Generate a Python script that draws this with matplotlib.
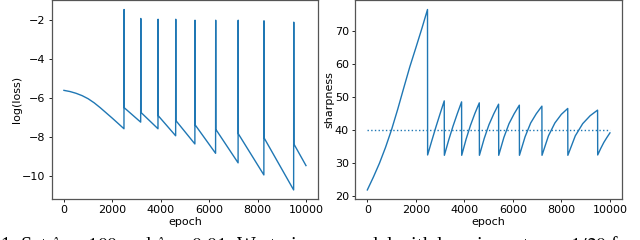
import numpy as np
import matplotlib.pyplot as plt

plt.rcParams['mathtext.fontset'] = 'stix'

## values

# epochs where the loss spikes / sharpness drops
spike_epochs = [2480, 3170, 3885, 4615, 5410, 6265, 7195, 8260, 9490]
last_epoch = 10000

# loss: smooth first phase
loss_start_epochs = [0, 250, 500, 750, 1000, 1250, 1500, 1750, 2000, 2250]
loss_start_vals = [-5.60, -5.66, -5.75, -5.87, -6.03, -6.24, -6.49, -6.76, -7.03, -7.31]
# loss around each spike
loss_before = [-7.57, -7.23, -7.57, -7.93, -8.35, -8.83, -9.32, -9.94, -10.71]
loss_top = [-1.45, -1.91, -1.95, -1.95, -2.0, -2.0, -2.0, -2.03, -2.1]
loss_after = [-6.49, -6.73, -6.90, -7.15, -7.37, -7.60, -7.83, -8.04, -8.35]
loss_end = -9.46

# sharpness: first phase
sharp_start_epochs = [0, 250, 500, 750, 1000, 1250, 1500, 1750, 2000, 2250]
sharp_start_vals = [21.9, 25.8, 30.0, 34.8, 40.2, 46.3, 52.8, 59.2, 65.0, 70.9]
sharp_first_peak = 76.6
# sharpness after each drop, peaks before the next drop
sharp_low = [32.5, 32.4, 32.4, 32.4, 32.4, 32.4, 32.4, 32.4, 32.5]
sharp_peak = [48.9, 48.6, 48.3, 47.9, 47.6, 47.3, 46.6, 46.1]
# values at 1/4, 1/2, 3/4 of each cycle
sharp_q1 = [36.8, 37.0, 37.3, 37.5, 37.8, 38.0, 38.3, 38.3, 34.5]
sharp_q2 = [41.0, 41.2, 41.5, 41.7, 42.0, 42.2, 42.2, 42.0, 36.3]
sharp_q3 = [45.0, 45.0, 45.1, 45.0, 45.0, 45.0, 44.8, 44.4, 37.8]
sharp_end = 39.2
threshold = 40

## building the curves

loss_x = list(loss_start_epochs)
loss_y = list(loss_start_vals)
for i, e in enumerate(spike_epochs):
    loss_x += [e, e + 5, e + 10]
    loss_y += [loss_before[i], loss_top[i], loss_after[i]]
loss_x.append(last_epoch)
loss_y.append(loss_end)

sharp_x = list(sharp_start_epochs) + [spike_epochs[0]]
sharp_y = list(sharp_start_vals) + [sharp_first_peak]
ends = spike_epochs[1:] + [last_epoch]
tops = sharp_peak + [sharp_end]
for i, e in enumerate(spike_epochs):
    nxt = ends[i]
    span = nxt - e - 5
    sharp_x += [e + 5, e + 5 + span * 0.25, e + 5 + span * 0.5, e + 5 + span * 0.75, nxt]
    sharp_y += [sharp_low[i], sharp_q1[i], sharp_q2[i], sharp_q3[i], tops[i]]

## plotting

fig = plt.figure(figsize=(6.4, 2.4), dpi=100)
ax1 = fig.add_axes([0.081, 0.171, 0.416, 0.827])
ax2 = fig.add_axes([0.555, 0.171, 0.417, 0.827])

ax1.plot(loss_x, loss_y, color='tab:blue', linewidth=1.0)
ax1.set_xlabel("epoch", fontsize=8, labelpad=1)
ax1.set_ylabel("log(loss)", fontsize=8, labelpad=0)
ax1.set_xticks([0, 2000, 4000, 6000, 8000, 10000])
ax1.set_yticks([-10, -8, -6, -4, -2])

ax2.plot(sharp_x, sharp_y, color='tab:blue', linewidth=1.0)
ax2.plot([0, last_epoch], [threshold, threshold], color='tab:blue',
         linestyle=':', linewidth=1.0)
ax2.set_xlabel("epoch", fontsize=8, labelpad=1)
ax2.set_ylabel("sharpness", fontsize=8, labelpad=0)
ax2.set_xticks([0, 2000, 4000, 6000, 8000, 10000])
ax2.set_yticks([20, 30, 40, 50, 60, 70])

for ax in (ax1, ax2):
    ax.tick_params(axis='both', labelsize=8, length=2.5, width=0.6, pad=2)
    for s in ax.spines.values():
        s.set_color('#555555')
        s.set_linewidth(0.9)

# caption is cut off by the page edge in the reference
fig.text(0.0, -0.045,
         r"1: Set $\lambda_1 = 100$ and $\lambda_2 = 0.01$. We train our model "
         r"with learning rate $\eta = 1/20$ for",
         family='Liberation Serif', fontsize=14.3, ha='left', va='baseline')

plt.savefig("out.png", dpi=100)
